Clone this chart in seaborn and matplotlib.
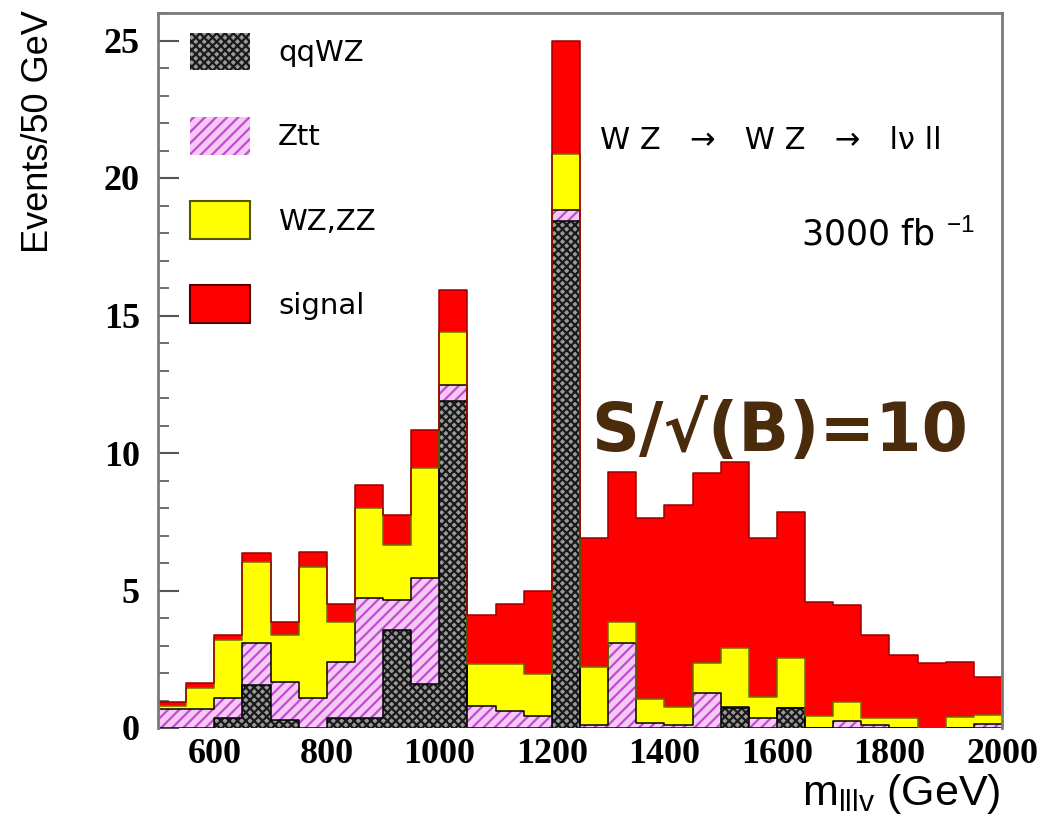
import numpy as np
import pandas as pd
import matplotlib
matplotlib.use("Agg")
import matplotlib.pyplot as plt
import seaborn as sns
from matplotlib.patches import Patch
from matplotlib.ticker import MultipleLocator
from matplotlib.colors import to_rgba

# ---------------- data (events per 50 GeV bin) ----------------
bin_edges = list(range(500, 2050, 50))
bin_low = bin_edges[:-1]

qqwz = [0, 0, 0.35, 1.55, 0.3, 0, 0.35, 0.35, 3.55, 1.6,
        11.9, 0, 0, 0, 18.45, 0, 0, 0, 0, 0,
        0.72, 0, 0.72, 0, 0, 0, 0, 0, 0, 0]
ztt = [0.7, 0.7, 0.75, 1.53, 1.38, 1.1, 2.06, 4.37, 1.1, 3.85,
       0.57, 0.8, 0.63, 0.45, 0.4, 0.1, 3.08, 0.17, 0.1, 1.27,
       0.05, 0.36, 0, 0, 0.25, 0.1, 0, 0, 0, 0.15]
wzzz = [0.1, 0.74, 2.1, 2.97, 1.7, 4.77, 1.46, 3.27, 2.0, 3.99,
        1.94, 1.53, 1.7, 1.52, 2.02, 2.13, 0.79, 0.88, 0.65, 1.08,
        2.13, 0.78, 1.83, 0.45, 0.71, 0.28, 0.36, 0, 0.41, 0.32]
signal = [0.15, 0.18, 0.18, 0.3, 0.49, 0.54, 0.63, 0.85, 1.1, 1.4,
          1.52, 1.78, 2.17, 3.02, 4.13, 4.67, 5.45, 6.57, 7.35, 6.91,
          6.78, 5.76, 5.32, 4.14, 3.51, 3.0, 2.29, 2.35, 2.0, 1.4]

process_names = ["qqWZ", "Ztt", "WZ,ZZ", "signal"]
series = {"qqWZ": qqwz, "Ztt": ztt, "WZ,ZZ": wzzz, "signal": signal}

rows = []
for name in process_names:
    for lo, v in zip(bin_low, series[name]):
        rows.append({"mass": lo + 25, "events": v, "process": name})
df = pd.DataFrame(rows)

# ---------------- style ----------------
sns.set_style("ticks")
plt.rcParams["font.family"] = ["DejaVu Sans"]
plt.rcParams["hatch.linewidth"] = 1.6
plt.rcParams["mathtext.fontset"] = "custom"
plt.rcParams["mathtext.rm"] = "Liberation Sans"
plt.rcParams["mathtext.it"] = "Liberation Sans"
plt.rcParams["text.color"] = "black"
plt.rcParams["axes.labelcolor"] = "black"
plt.rcParams["xtick.color"] = "black"
plt.rcParams["ytick.color"] = "black"

col_sig = "#ff0000"
col_wz = "#ffff00"
col_ztt = "#f6c8f6"
col_qq = "#9a9a9a"
hatch_ztt = "#c04cd0"
hatch_qq = "#1a1a1a"

palette = {"signal": col_sig, "WZ,ZZ": col_wz, "Ztt": col_ztt, "qqWZ": col_qq}
edge_palette = {"signal": "#9a0000", "WZ,ZZ": "#6e6e00",
                "Ztt": (0, 0, 0, 0), "qqWZ": (0, 0, 0, 0)}
stack_order = ["signal", "WZ,ZZ", "Ztt", "qqWZ"]   # last level is at the bottom

fig = plt.figure(figsize=(10.51, 8.26), dpi=100)
W, H = 1051, 826
ax = fig.add_axes([158 / W, 1 - 728 / H, (1002 - 158) / W, (728 - 13) / H])

sns.histplot(data=df, x="mass", weights="events", hue="process",
             hue_order=stack_order, bins=bin_edges, multiple="stack",
             element="bars", palette=palette, alpha=1, linewidth=0,
             legend=False, ax=ax)

for p in ax.patches:
    fc = p.get_facecolor()
    if np.allclose(fc, to_rgba(col_ztt), atol=0.02):
        p.set_hatch("///")
        p.set_edgecolor(hatch_ztt)
        p.set_linewidth(0)
    elif np.allclose(fc, to_rgba(col_qq), atol=0.02):
        p.set_hatch("xxxx")
        p.set_edgecolor(hatch_qq)
        p.set_linewidth(0)

# thin dark outlines on the stacked layers (ROOT-style histogram lines)
sns.histplot(data=df, x="mass", weights="events", hue="process",
             hue_order=stack_order, bins=bin_edges, multiple="stack",
             element="step", fill=False, palette=edge_palette, linewidth=1.1,
             legend=False, ax=ax)

ax.set_xlim(500, 2000)
ax.set_ylim(0, 26)

# ticks
ax.yaxis.set_major_locator(MultipleLocator(5))
ax.yaxis.set_minor_locator(MultipleLocator(1))
ax.xaxis.set_major_locator(MultipleLocator(200))
ax.tick_params(axis="y", which="major", direction="in", length=15, width=1.5,
               color="#555555", pad=13)
ax.tick_params(axis="y", which="minor", direction="in", length=8, width=1.2,
               color="#555555")
ax.tick_params(axis="x", which="both", length=0, pad=7)
for lab in ax.get_xticklabels() + ax.get_yticklabels():
    lab.set_fontfamily("Liberation Serif")
    lab.set_fontweight("bold")
    lab.set_fontsize(26)
    lab.set_color("black")

for side in ["left", "top", "right"]:
    ax.spines[side].set_color("#7a7a7a")
    ax.spines[side].set_linewidth(2)
ax.spines["bottom"].set_visible(False)

# axis labels
ax.set_ylabel("Events/50 GeV", loc="top", fontsize=26, family="Liberation Sans",
              color="black")
ax.yaxis.set_label_coords(-0.121, 1.004)
ax.set_xlabel(r"m$_{\mathrm{lllv}}$ (GeV)", loc="right", fontsize=31,
              family="Liberation Sans", color="black")
ax.xaxis.set_label_coords(0.998, -0.062)

# legend
handles = [
    Patch(facecolor=col_qq, edgecolor=hatch_qq, hatch="xxxx", linewidth=0),
    Patch(facecolor=col_ztt, edgecolor=hatch_ztt, hatch="///", linewidth=0),
    Patch(facecolor=col_wz, edgecolor="#555500", linewidth=1.5),
    Patch(facecolor=col_sig, edgecolor="#550000", linewidth=1.5),
]
leg = ax.legend(handles, process_names, loc="upper left",
                bbox_to_anchor=(190 / W, 1 - 33 / H), bbox_transform=fig.transFigure,
                frameon=False, fontsize=21, handlelength=2.07, handleheight=1.6,
                labelspacing=1.6, handletextpad=0.95, borderpad=0, borderaxespad=0)
for t in leg.get_texts():
    t.set_color("black")

# annotations
ax.text(0.524, 0.822, "W Z   \u2192   W Z   \u2192   l\u03bd ll", transform=ax.transAxes,
        fontsize=22, va="center", ha="left", color="black")
ax.text(0.968, 0.69, r"3000 fb $^{-1}$", transform=ax.transAxes,
        fontsize=25, va="center", ha="right", color="black", family="DejaVu Sans")
ax.text(0.737, 0.414, "S/\u221a(B)=10", transform=ax.transAxes,
        fontsize=48, fontweight="bold", va="center", ha="center", color="#4a2c0c")

fig.savefig("out.png", dpi=100)
